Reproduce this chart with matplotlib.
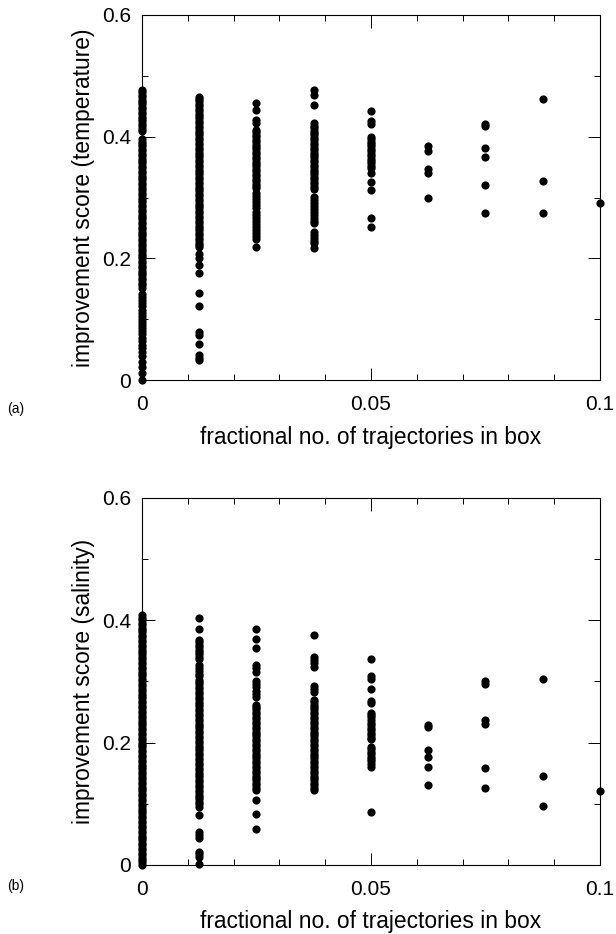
import matplotlib
matplotlib.use('Agg')
import matplotlib.pyplot as plt
from matplotlib.ticker import MultipleLocator, FixedLocator

plt.rcParams['font.family'] = ['Liberation Sans', 'DejaVu Sans']

# box fractions (columns of points)
xcols = [0.0, 0.0125, 0.025, 0.0375, 0.05, 0.0625, 0.075, 0.0875, 0.1]

# (a) improvement score, temperature
temp = [
    [0.477, 0.473, 0.469, 0.465, 0.461, 0.457, 0.453, 0.449, 0.445, 0.441, 0.437,
     0.433, 0.429, 0.425, 0.421, 0.417, 0.413, 0.409,
     0.396, 0.392, 0.388, 0.384, 0.380, 0.376, 0.372, 0.368, 0.364, 0.360, 0.356,
     0.352, 0.348, 0.344, 0.340, 0.336, 0.332, 0.328, 0.324, 0.320, 0.316, 0.312,
     0.308, 0.304, 0.300, 0.296, 0.292, 0.288, 0.284, 0.280, 0.276, 0.272, 0.268,
     0.264, 0.260, 0.256, 0.252, 0.248, 0.244, 0.240, 0.236, 0.232, 0.228, 0.224,
     0.220, 0.216, 0.212, 0.208, 0.204, 0.200, 0.196, 0.192, 0.188, 0.184, 0.180,
     0.176, 0.172, 0.168, 0.164, 0.160, 0.156, 0.152,
     0.141, 0.136, 0.131, 0.126, 0.121, 0.116, 0.111, 0.106, 0.101, 0.096, 0.091,
     0.086, 0.081, 0.076, 0.070, 0.064, 0.058, 0.052, 0.046, 0.040, 0.030, 0.022,
     0.012, 0.0],
    [0.466, 0.462, 0.458, 0.454, 0.450, 0.446, 0.442, 0.438, 0.434, 0.430, 0.426,
     0.422, 0.418, 0.414, 0.410, 0.406, 0.402, 0.398, 0.394, 0.390, 0.386, 0.382,
     0.378, 0.374, 0.370, 0.366, 0.362, 0.358, 0.354, 0.350, 0.346, 0.342, 0.338,
     0.334, 0.330, 0.326, 0.322, 0.318, 0.314, 0.310, 0.306, 0.302, 0.298, 0.294,
     0.290, 0.286, 0.282, 0.278, 0.274, 0.270, 0.266, 0.262, 0.258, 0.254, 0.250,
     0.246, 0.242, 0.238, 0.234, 0.230, 0.226, 0.222, 0.219,
     0.208, 0.200, 0.189, 0.176, 0.143, 0.122, 0.079, 0.074, 0.060, 0.041, 0.036,
     0.033],
    [0.455, 0.444, 0.428, 0.422, 0.411, 0.407, 0.403, 0.399, 0.395, 0.391, 0.387,
     0.383, 0.379, 0.375, 0.371, 0.367, 0.363, 0.359, 0.355, 0.351, 0.347, 0.343,
     0.339, 0.335, 0.331, 0.327, 0.323, 0.319, 0.315,
     0.307, 0.302, 0.297, 0.292, 0.287, 0.282, 0.277, 0.272, 0.267, 0.262, 0.257,
     0.252, 0.247, 0.242, 0.237, 0.232, 0.219],
    [0.477, 0.469, 0.452, 0.422, 0.418, 0.414, 0.410, 0.406, 0.402, 0.398, 0.394,
     0.390, 0.386, 0.382, 0.378, 0.374, 0.370, 0.366, 0.362, 0.358, 0.354, 0.350,
     0.346, 0.342, 0.338, 0.334, 0.330, 0.326, 0.322, 0.318, 0.314,
     0.301, 0.296, 0.291, 0.286, 0.281, 0.276, 0.271, 0.266, 0.261, 0.258,
     0.244, 0.239, 0.234, 0.229, 0.225, 0.217],
    [0.442, 0.426, 0.421, 0.400, 0.396, 0.392, 0.388, 0.384, 0.380, 0.376, 0.372,
     0.368, 0.364, 0.360, 0.356, 0.352, 0.348, 0.340, 0.326, 0.312, 0.266, 0.251],
    [0.385, 0.376, 0.347, 0.341, 0.300],
    [0.421, 0.417, 0.382, 0.367, 0.321, 0.274],
    [0.462, 0.327, 0.274],
    [0.291],
]

# (b) improvement score, salinity
sal = [
    [0.408, 0.404, 0.400, 0.396, 0.392, 0.388, 0.384, 0.380, 0.376, 0.372, 0.368,
     0.364, 0.360, 0.356, 0.352, 0.348, 0.344, 0.340, 0.336, 0.332, 0.328, 0.324,
     0.320, 0.316, 0.312, 0.308, 0.304, 0.300, 0.296, 0.292, 0.288, 0.284, 0.280,
     0.276, 0.272, 0.268, 0.264, 0.260, 0.256, 0.252, 0.248, 0.244, 0.240, 0.236,
     0.232, 0.228, 0.224, 0.220, 0.216, 0.212, 0.208, 0.204, 0.200, 0.196, 0.192,
     0.188, 0.184, 0.180, 0.176, 0.172, 0.168, 0.164, 0.160, 0.156, 0.152, 0.148,
     0.144, 0.140, 0.136, 0.132, 0.128, 0.124, 0.120, 0.116, 0.112, 0.108, 0.104,
     0.100, 0.096, 0.092, 0.088, 0.084, 0.080, 0.076, 0.072, 0.068, 0.064, 0.060,
     0.056, 0.052, 0.048, 0.044, 0.040, 0.036, 0.032, 0.028, 0.024, 0.020, 0.016,
     0.012, 0.008, 0.004, 0.0],
    [0.404, 0.385, 0.368, 0.364, 0.360, 0.356, 0.352, 0.348, 0.344, 0.340, 0.336,
     0.327, 0.322, 0.317, 0.312, 0.308,
     0.303, 0.299, 0.295, 0.291, 0.287, 0.283, 0.279, 0.275, 0.271, 0.267, 0.263,
     0.259, 0.255, 0.251, 0.247, 0.243, 0.239, 0.235, 0.231, 0.227, 0.223, 0.219,
     0.215, 0.211, 0.207, 0.203, 0.199, 0.195, 0.191, 0.187, 0.183, 0.179, 0.175,
     0.171, 0.167, 0.163, 0.159, 0.155, 0.151, 0.147, 0.143, 0.139, 0.135, 0.131,
     0.127, 0.123, 0.119, 0.115, 0.111, 0.107, 0.103, 0.099, 0.095,
     0.082, 0.054, 0.049, 0.044, 0.021, 0.017, 0.013, 0.002],
    [0.386, 0.370, 0.354, 0.327, 0.322, 0.316, 0.301, 0.296, 0.291, 0.285, 0.280,
     0.275, 0.262, 0.258, 0.254, 0.250, 0.246, 0.242, 0.238, 0.234, 0.230, 0.226,
     0.222, 0.218, 0.214, 0.210, 0.206, 0.202, 0.198, 0.194, 0.190, 0.186, 0.182,
     0.178, 0.174, 0.170, 0.166, 0.162, 0.158, 0.154, 0.150, 0.146, 0.142, 0.138,
     0.134, 0.130, 0.126, 0.123, 0.106, 0.083, 0.059],
    [0.375, 0.340, 0.335, 0.330, 0.324, 0.293, 0.288, 0.282, 0.270, 0.266, 0.262,
     0.258, 0.254, 0.250, 0.246, 0.242, 0.238, 0.234, 0.230, 0.226, 0.222, 0.218,
     0.214, 0.210, 0.206, 0.202, 0.198, 0.194, 0.190, 0.186, 0.182, 0.178, 0.174,
     0.170, 0.166, 0.162, 0.158, 0.154, 0.150, 0.146, 0.142, 0.138, 0.134, 0.130,
     0.126, 0.123],
    [0.337, 0.309, 0.304, 0.288, 0.268, 0.265, 0.249, 0.245, 0.241, 0.237, 0.232,
     0.228, 0.224, 0.220, 0.216, 0.212, 0.208, 0.205, 0.193, 0.189, 0.185, 0.181,
     0.177, 0.173, 0.169, 0.165, 0.160, 0.087],
    [0.229, 0.226, 0.188, 0.177, 0.160, 0.131],
    [0.300, 0.295, 0.237, 0.231, 0.159, 0.126],
    [0.304, 0.146, 0.097],
    [0.120],
]

fig = plt.figure(figsize=(6.16, 9.34), dpi=100)
ax1 = fig.add_axes([0.2305, 0.593, 0.7435, 0.391])
ax2 = fig.add_axes([0.2305, 0.074, 0.7435, 0.393])

panels = [(ax1, temp, 'improvement score (temperature)', '(a)', 0.558),
          (ax2, sal, 'improvement score (salinity)', '(b)', 0.047)]

for ax, cols, ylab, tag, tagy in panels:
    for xv, ys in zip(xcols, cols):
        ax.plot([xv] * len(ys), ys, 'o', color='black', ms=5.9, mew=0, clip_on=False, zorder=3)
    ax.set_xlim(0, 0.1)
    ax.set_ylim(0, 0.6)
    ax.xaxis.set_major_locator(FixedLocator([0, 0.05, 0.1]))
    ax.xaxis.set_minor_locator(MultipleLocator(0.01))
    ax.yaxis.set_major_locator(FixedLocator([0, 0.2, 0.4, 0.6]))
    ax.yaxis.set_minor_locator(MultipleLocator(0.1))
    ax.set_xticklabels(['0', '0.05', '0.1'])
    ax.set_yticklabels(['0', '0.2', '0.4', '0.6'])
    ax.tick_params(which='both', direction='in', top=True, right=True, labelsize=15, width=0.7)
    ax.tick_params(which='major', length=9)
    ax.tick_params(which='minor', length=4)
    ax.tick_params(axis='x', which='major', pad=11)
    ax.tick_params(axis='y', which='major', pad=8)
    for s in ax.spines.values():
        s.set_linewidth(0.8)
    ax.set_ylabel(ylab, fontsize=16.4, labelpad=5)
    ax.set_xlabel('fractional no. of trajectories in box', fontsize=16.4, labelpad=8)
    fig.text(0.012, tagy, tag, fontsize=10)

fig.savefig('out.png', dpi=100)
